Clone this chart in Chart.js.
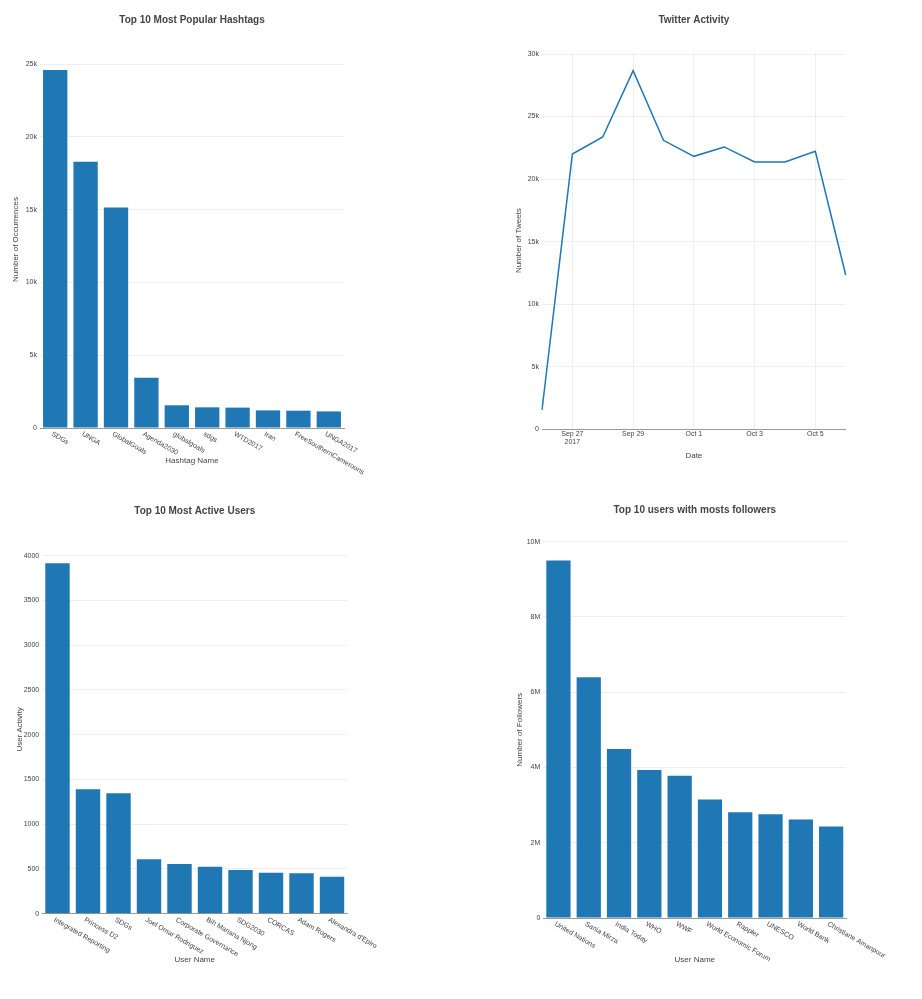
<!DOCTYPE html>
<html>
<head>
<meta charset="utf-8">
<script src="https://cdn.jsdelivr.net/npm/chart.js@4/dist/chart.umd.min.js"></script>
<style>
  body { margin: 0; background: #fff; }
  canvas { position: absolute; }
</style>
</head>
<body>
<canvas id="hashtagChart"></canvas>
<canvas id="activityChart"></canvas>
<canvas id="usersChart"></canvas>
<canvas id="followersChart"></canvas>
<script>
const hashtagNames = ["SDGs", "UNGA", "GlobalGoals", "Agenda2030", "globalgoals", "sdgs", "WTD2017", "Iran", "FreeSouthernCameroons", "UNGA2017"];
const hashtagCounts = [24600, 18300, 15150, 3450, 1560, 1420, 1400, 1210, 1190, 1140];
const hashtagTicks = [0, 5000, 10000, 15000, 20000, 25000];

const activityDates = ["Sep 26", "Sep 27", "Sep 28", "Sep 29", "Sep 30", "Oct 1", "Oct 2", "Oct 3", "Oct 4", "Oct 5", "Oct 6"];
const tweetCounts = [1540, 22000, 23370, 28670, 23100, 21820, 22570, 21370, 21370, 22220, 12330];
const tweetTicks = [0, 5000, 10000, 15000, 20000, 25000, 30000];

const activeUsers = ["Integrated Reporting", "Princess D2", "SDGs", "Joel Omar Rodriguez", "Corporate Governance", "Bih Mariana Njong", "SDG2030", "CORCAS", "Adam Rogers", "Alexandra d'Epiro"];
const userActivity = [3915, 1390, 1345, 608, 555, 525, 488, 458, 451, 413];
const activityTicks = [0, 500, 1000, 1500, 2000, 2500, 3000, 3500, 4000];

const followedUsers = ["United Nations", "Sania Mirza", "India Today", "WHO", "WWF", "World Economic Forum", "Rappler", "UNESCO", "World Bank", "Christiane Amanpour"];
const followerCounts = [9500000, 6400000, 4490000, 3930000, 3780000, 3150000, 2810000, 2760000, 2620000, 2430000];
const followerTicks = [0, 2000000, 4000000, 6000000, 8000000, 10000000];

const FONT = "'Liberation Sans', Arial, sans-serif";
const INK = "#444";
const BLUE = "#1f77b4";

const kFmt = v => v === 0 ? "0" : (v / 1000) + "k";
const mFmt = v => v === 0 ? "0" : (v / 1e6) + "M";

// x labels slanted downwards to the right, starting at the tick
const slantedLabels = {
  id: "slantedLabels",
  afterDraw(chart) {
    const xs = chart.scales.x, ctx = chart.ctx;
    ctx.save();
    ctx.font = "7px " + FONT;
    ctx.fillStyle = INK;
    ctx.textAlign = "left";
    ctx.textBaseline = "top";
    chart.data.labels.forEach((label, i) => {
      ctx.save();
      ctx.translate(xs.getPixelForTick(i) - 1.5, xs.top + 2.5);
      ctx.rotate(Math.PI / 6);
      ctx.fillText(label, 0, 0);
      ctx.restore();
    });
    ctx.restore();
  }
};

function place(id, box) {
  const c = document.getElementById(id);
  c.width = box.w; c.height = box.h;
  c.style.left = box.x + "px"; c.style.top = box.y + "px";
  return c;
}

function baseOptions(box, area, t) {
  return {
    responsive: false,
    animation: false,
    devicePixelRatio: 1,
    layout: { padding: { left: 0, top: 0, bottom: 0, right: box.x + box.w - area.right } },
    plugins: {
      legend: { display: false },
      tooltip: { enabled: false },
      title: {
        display: true, text: t.main, fullSize: false, color: INK,
        font: { family: FONT, size: 10, weight: "bold" },
        padding: { top: t.mainY - box.y - 6, bottom: area.top - t.mainY - 6 }
      }
    },
    scales: {
      x: {
        afterFit: s => { s.height = box.y + box.h - area.bottom; },
        border: { color: "#999", width: 1 },
        grid: { display: false, drawTicks: false },
        ticks: { display: false },
        title: {
          display: true, text: t.x, color: INK, font: { family: FONT, size: 8 },
          padding: { top: 0, bottom: box.y + box.h - t.xY - 4.8 }
        }
      },
      y: {
        min: 0, max: t.max,
        afterFit: s => { s.width = area.left - box.x; },
        afterBuildTicks: s => { s.ticks = t.ticks.map(v => ({ value: v })); },
        border: { display: false },
        grid: { color: "#eee", drawTicks: false },
        ticks: {
          padding: 3, color: INK,
          font: { family: FONT, size: 7 }, callback: t.fmt
        },
        title: {
          display: true, text: t.y, color: INK, font: { family: FONT, size: 8 },
          padding: { top: t.yX - box.x - 4.8, bottom: 0 }
        }
      }
    }
  };
}

function barChart(id, box, area, t, labels, values) {
  new Chart(place(id, box), {
    type: "bar",
    data: {
      labels,
      datasets: [{
        data: values,
        backgroundColor: BLUE,
        categoryPercentage: 1,
        barPercentage: 0.8
      }]
    },
    options: baseOptions(box, area, t),
    plugins: [slantedLabels]
  });
}

// HASHTAGS
barChart("hashtagChart",
  { x: 0, y: 0, w: 460, h: 490 },
  { left: 40, right: 344, top: 51, bottom: 428 },
  { main: "Top 10 Most Popular Hashtags", mainY: 20, x: "Hashtag Name", xY: 461,
    y: "Number of Occurrences", yX: 15.7, max: 25900, ticks: hashtagTicks, fmt: kFmt },
  hashtagNames, hashtagCounts);

// ACTIVITY
(() => {
  const box = { x: 460, y: 0, w: 462, h: 490 };
  const area = { left: 542, right: 845.7, top: 52, bottom: 429.3 };
  const opts = baseOptions(box, area, {
    main: "Twitter Activity", mainY: 20, x: "Date", xY: 456,
    y: "Number of Tweets", yX: 518.3, max: 30160, ticks: tweetTicks, fmt: kFmt
  });
  opts.scales.x.offset = false;
  opts.scales.x.grid = {
    display: true, drawTicks: false,
    color: ctx => ctx.index % 2 === 1 ? "#eee" : "rgba(0,0,0,0)"
  };
  opts.scales.x.ticks = {
    display: true, autoSkip: false, maxRotation: 0, minRotation: 0, padding: 0.5,
    color: INK, font: { family: FONT, size: 7 },
    callback: (v, i) => i % 2 !== 1 ? "" : (i === 1 ? [activityDates[i], "2017"] : activityDates[i])
  };
  new Chart(place("activityChart", box), {
    type: "line",
    data: {
      labels: activityDates,
      datasets: [{
        data: tweetCounts,
        borderColor: BLUE,
        borderWidth: 1.5,
        pointRadius: 0,
        tension: 0,
        fill: false
      }]
    },
    options: opts
  });
})();

// ACTIVE USERS
barChart("usersChart",
  { x: 0, y: 490, w: 460, h: 509 },
  { left: 42.25, right: 347.25, top: 545, bottom: 913.7 },
  { main: "Top 10 Most Active Users", mainY: 511, x: "User Name", xY: 960,
    y: "User Activity", yX: 19.3, max: 4120, ticks: activityTicks, fmt: v => String(v) },
  activeUsers, userActivity);

// FOLLOWERS
barChart("followersChart",
  { x: 460, y: 490, w: 462, h: 509 },
  { left: 543.3, right: 846.3, top: 541.7, bottom: 918 },
  { main: "Top 10 users with mosts followers", mainY: 510, x: "User Name", xY: 959.3,
    y: "Number of Followers", yX: 519.3, max: 10000000, ticks: followerTicks, fmt: mFmt },
  followedUsers, followerCounts);
</script>
</body>
</html>
